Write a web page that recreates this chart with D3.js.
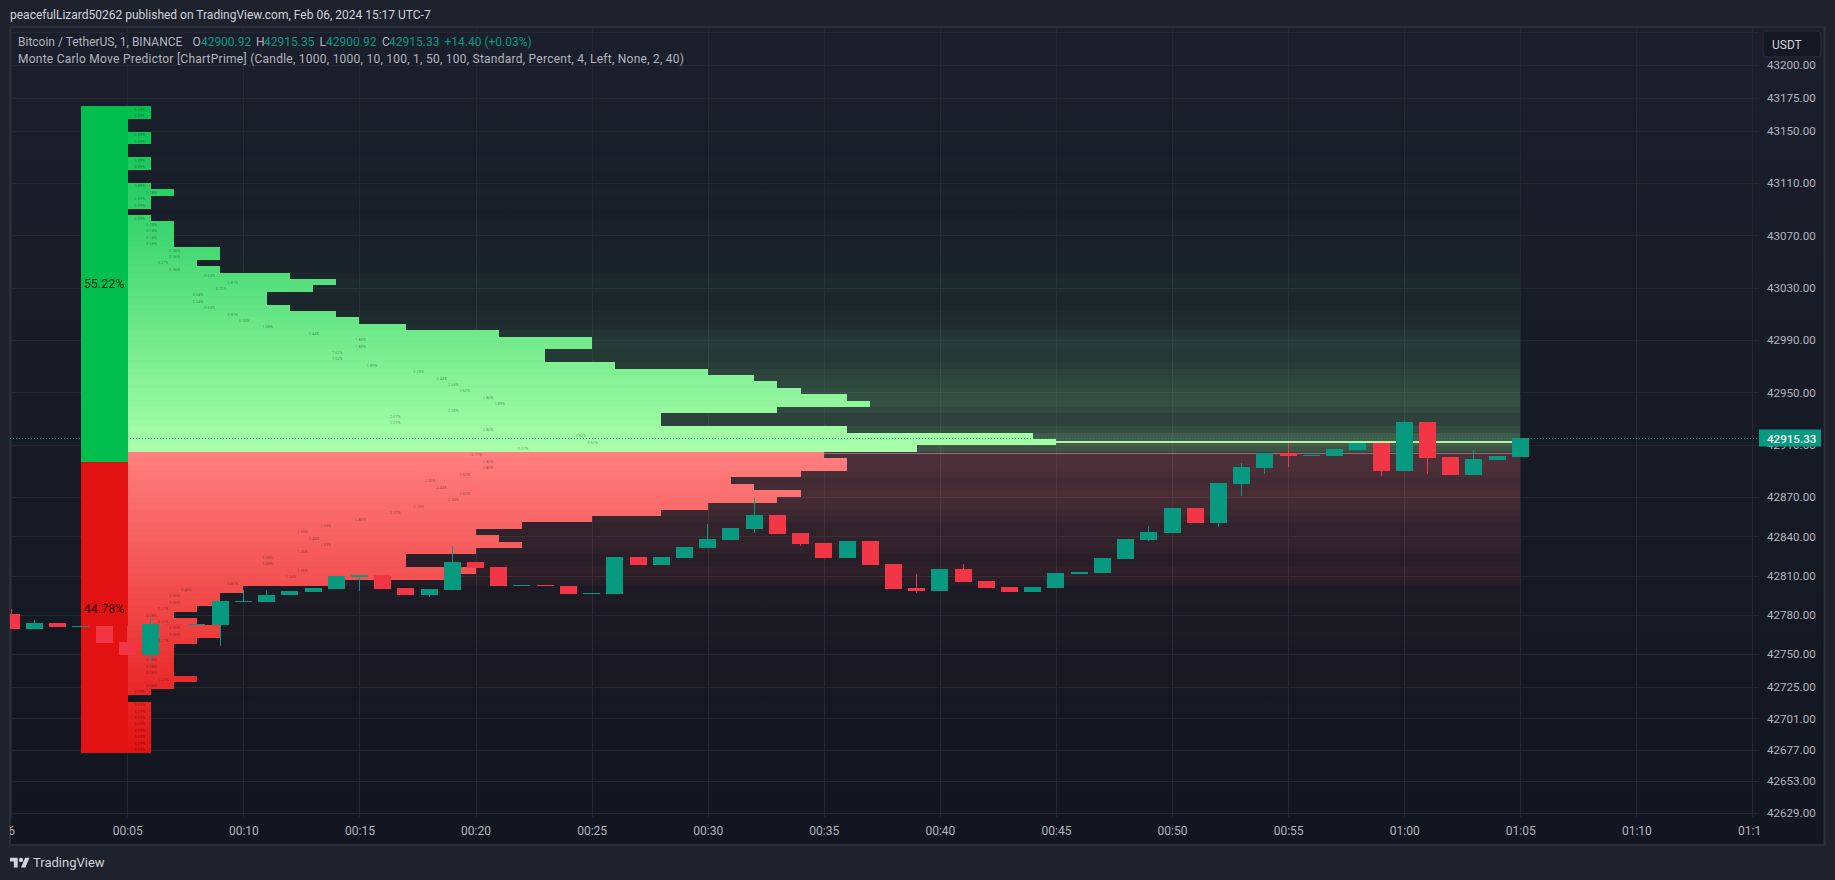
<!DOCTYPE html>
<html>
<head>
<meta charset="utf-8">
<script src="https://d3js.org/d3.v7.min.js"></script>
<style>
html,body{margin:0;padding:0;background:#1e222d;overflow:hidden}
svg{display:block}
text{font-family:Roboto,"Open Sans",sans-serif}
</style>
</head>
<body>
<svg id="c" width="1835" height="880"></svg>
<script>
// ---------- data ----------
const minutes = d3.range(0,66);
const opens  = [42780.8,42769.3,42773.9,42770.8,42771.6,42759.3,42749.4,42773.1,42772.3,42772.3,42789.9,42789.9,42795.3,42797.5,42799.8,42809.0,42810.5,42800.6,42795.3,42799.1,42820.5,42816.7,42802.1,42802.9,42802.1,42796.0,42796.0,42824.3,42818.2,42823.5,42831.2,42837.3,42845.7,42856.4,42842.6,42835.0,42823.5,42836.5,42818.9,42800.6,42798.3,42815.1,42805.9,42801.4,42797.5,42800.6,42811.3,42812.1,42822.8,42837.3,42842.6,42861.7,42850.3,42880.0,42892.3,42903.7,42901.4,42901.4,42906.0,42911.4,42890.0,42927.4,42900.7,42886.9,42898.4,42900.92];
const highs  = [42784.6,42776.2,42773.9,42771.6,42771.6,42771.6,42777.7,42773.1,42773.1,42790.7,42799.1,42799.1,42798.3,42800.6,42809.8,42810.5,42810.5,42800.6,42799.8,42832.7,42820.5,42816.7,42802.9,42802.9,42802.1,42796.8,42824.3,42824.3,42824.3,42831.9,42849.5,42846.4,42869.4,42856.4,42842.6,42835.0,42836.5,42836.5,42818.9,42811.3,42815.1,42818.9,42805.9,42801.4,42801.4,42812.1,42812.8,42823.5,42838.0,42848.0,42861.7,42861.7,42880.8,42896.1,42903.7,42911.4,42902.2,42906.8,42911.4,42911.4,42928.2,42927.4,42900.7,42906.0,42901.4,42915.35];
const lows   = [42769.3,42769.3,42770.8,42770.8,42758.6,42749.4,42744.1,42772.3,42772.3,42756.3,42789.9,42789.9,42795.3,42797.5,42799.8,42798.3,42799.8,42795.3,42793.7,42799.1,42815.9,42802.1,42802.1,42802.1,42796.0,42796.0,42796.0,42818.2,42818.2,42823.5,42831.2,42837.3,42842.6,42841.8,42832.7,42823.5,42823.5,42818.2,42799.8,42796.8,42798.3,42805.2,42800.6,42797.5,42797.5,42800.6,42811.3,42812.1,42822.8,42836.5,42842.6,42850.3,42847.2,42870.9,42887.7,42893.0,42901.4,42901.4,42906.0,42886.2,42890.0,42887.7,42886.9,42886.9,42898.4,42900.92];
const closes = [42769.3,42773.9,42770.8,42771.6,42758.6,42749.4,42773.1,42772.3,42773.1,42790.7,42790.7,42795.3,42798.3,42800.6,42809.8,42810.5,42799.8,42795.3,42799.8,42820.5,42815.9,42802.1,42802.9,42802.1,42796.0,42796.8,42824.3,42818.2,42824.3,42831.9,42838.0,42846.4,42856.4,42841.8,42834.2,42823.5,42836.5,42818.2,42799.8,42798.3,42815.1,42805.2,42800.6,42797.5,42801.4,42812.1,42812.8,42823.5,42838.0,42843.4,42861.7,42850.3,42880.8,42893.0,42903.7,42901.4,42902.2,42906.8,42911.4,42890.0,42927.4,42899.9,42886.9,42899.2,42901.4,42915.33];

// profile: length of each price row, in bars, from the top row down
const greenBars = [1,1,0,0,1,1,0,0,1,1,0,0,1,2,1,1,0,1,2,2,2,2,4,4,3,4,7,9,8,6,6,7,9,10,12,16,20,20,18,18,21,25,27,28,29,31,32,28,23,23,31,39,40,34];
const redBars   = [30,31,31,29,26,27,29,28,25,23,20,17,15,16,17,15,12,12,15,14,9,5,4,4,3,2,3,4,4,3,2,2,2,2,2,3,2,1,0,1,1,1,1,1,1,1,1];
const profileTop = 43168.8, profileBottom = 42674.6, profileSplit = 42897.1;
const pctPerBar = 0.0902;
const greenShare = "55.22%", redShare = "44.78%";
const greenLevel = 42912.9, redLevel = 42903.7;
const lastClose = 42915.33;

const gridPrices = [43225,43200,43175,43150,43110,43070,43030,42990,42950,42910,42870,42840,42810,42780,42750,42725,42701,42677,42653,42629];
const priceTicks = [43200,43175,43150,43110,43070,43030,42990,42950,42910,42870,42840,42810,42780,42750,42725,42701,42677,42653,42629];
const timeTicks  = [0,5,10,15,20,25,30,35,40,45,50,55,60,65,70,75];
const timeLabels = ["6","00:05","00:10","00:15","00:20","00:25","00:30","00:35","00:40","00:45","00:50","00:55","01:00","01:05","01:10","01:15"];

const UP="#089981", DOWN="#f23645", GRID="#242833", TXT="#b2b5be";

// ---------- scales ----------
const x = d3.scaleLinear().domain([5,65]).range([127.3,1520.3]);
const y = d3.scaleLinear().domain([43110,42750]).range([183,654.2]);
const greenColor = d3.scaleLinear().domain([profileTop,42904]).range(["#00bf4f","#aaffaa"]).interpolate(d3.interpolateRgb);
const redColor   = d3.scaleLinear().domain([42904,profileBottom]).range(["#ff7f7f","#e21212"]).interpolate(d3.interpolateRgb);
const alphaOf    = d3.scaleLinear().domain([0,40]).range([0.008,0.30]);

const nRows = greenBars.length + redBars.length;
const bin = (profileTop-profileBottom)/nRows;
const rows = greenBars.concat(redBars).map((bars,i)=>{
  const up = i<greenBars.length;
  const p0 = profileTop-i*bin, p1 = profileTop-(i+1)*bin;
  return {bars,up,p0,p1,color:(up?greenColor:redColor)((p0+p1)/2)};
});
const candles = minutes.map((t,i)=>({t,o:opens[i],h:highs[i],l:lows[i],c:closes[i]}));

// ---------- layout ----------
const svg = d3.select("#c");
const defs = svg.append("defs");
const grad = defs.append("linearGradient").attr("id","bg").attr("x1",0).attr("x2",0).attr("y1",0).attr("y2",1);
grad.append("stop").attr("offset",0).attr("stop-color","#1b1f2b");
grad.append("stop").attr("offset",1).attr("stop-color","#121620");
defs.append("clipPath").attr("id","pane").append("rect").attr("x",10).attr("y",28).attr("width",1749).attr("height",789);
defs.append("clipPath").attr("id","taxis").append("rect").attr("x",10).attr("y",817).attr("width",1749.5).attr("height",27);

svg.append("rect").attr("width",1835).attr("height",880).attr("fill","#1e222d");
svg.append("rect").attr("x",10).attr("y",27).attr("width",1814.5).attr("height",818).attr("fill","url(#bg)")
   .attr("stroke","#2a2e39").attr("stroke-width",2);

// header
svg.append("text").attr("x",10).attr("y",19).attr("font-size",12).attr("fill","#d1d4dc")
   .text("peacefulLizard50262 published on TradingView.com, Feb 06, 2024 15:17 UTC-7");

const pane = svg.append("g").attr("clip-path","url(#pane)").attr("shape-rendering","crispEdges");

// grid
pane.selectAll(".hg").data(gridPrices).join("line").attr("class","hg")
  .attr("x1",10).attr("x2",1759).attr("y1",d=>Math.round(y(d))+.5).attr("y2",d=>Math.round(y(d))+.5)
  .attr("stroke",GRID);
pane.selectAll(".vg").data(timeTicks).join("line").attr("class","vg")
  .attr("y1",28).attr("y2",817).attr("x1",d=>Math.round(x(d))+.5).attr("x2",d=>Math.round(x(d))+.5)
  .attr("stroke",GRID);

// translucent bands to the last bar
pane.selectAll(".band").data(rows).join("rect").attr("class","band")
  .attr("x",x(5)).attr("width",x(65)-x(5))
  .attr("y",d=>Math.round(y(d.p0))).attr("height",d=>Math.round(y(d.p1))-Math.round(y(d.p0)))
  .attr("fill",d=>d.color).attr("fill-opacity",d=>alphaOf(d.bars));

// profile rows
const edge = Math.round(x(5))+1;
pane.selectAll(".row").data(rows.filter(d=>d.bars>0)).join("rect").attr("class","row")
  .attr("x",edge).attr("width",d=>Math.round(x(5+d.bars))-edge)
  .attr("y",d=>Math.round(y(d.p0))).attr("height",d=>Math.round(y(d.p1))-Math.round(y(d.p0)))
  .attr("fill",d=>d.color);

// tiny percentage labels
pane.selectAll(".pct").data(rows.filter(d=>d.bars>0)).join("text").attr("class","pct")
  .attr("x",d=>(x(5)+x(5+d.bars))/2+1).attr("y",d=>(y(d.p0)+y(d.p1))/2+1.4)
  .attr("text-anchor","middle").attr("font-size",4).attr("fill","rgba(0,0,0,0.42)")
  .text(d=>(d.bars*pctPerBar).toFixed(2)+"%");

// last price dotted line
pane.append("line").attr("x1",10).attr("x2",1759).attr("y1",Math.round(y(lastClose))+.5).attr("y2",Math.round(y(lastClose))+.5)
  .attr("stroke",UP).attr("stroke-dasharray","1 2");

// left share bar
pane.append("rect").attr("x",Math.round(x(3))).attr("width",edge-Math.round(x(3)))
  .attr("y",Math.round(y(profileTop))).attr("height",Math.round(y(profileSplit))-Math.round(y(profileTop))).attr("fill","#00bf4f");
pane.append("rect").attr("x",Math.round(x(3))).attr("width",edge-Math.round(x(3)))
  .attr("y",Math.round(y(profileSplit))).attr("height",Math.round(y(profileBottom))-Math.round(y(profileSplit))).attr("fill","#e21212");

// mean lines
pane.append("rect").attr("x",x(45)).attr("width",x(65)-x(45)).attr("y",Math.round(y(greenLevel))).attr("height",2).attr("fill","#b6f2a4");
pane.append("rect").attr("x",x(35)).attr("width",x(65)-x(35)).attr("y",Math.round(y(redLevel))).attr("height",1).attr("fill","#8f7478");

// candles
const cg = pane.selectAll(".cdl").data(candles).join("g").attr("class","cdl");
cg.append("rect").attr("x",d=>Math.round(x(d.t)-.5)).attr("width",1)
  .attr("y",d=>Math.round(y(d.h))).attr("height",d=>Math.max(1,Math.round(y(d.l))-Math.round(y(d.h))))
  .attr("fill",d=>d.c>=d.o?UP:DOWN);
cg.append("rect").attr("x",d=>Math.round(x(d.t)-8.5)).attr("width",17)
  .attr("y",d=>Math.round(y(Math.max(d.o,d.c)))).attr("height",d=>Math.max(1,Math.round(y(Math.min(d.o,d.c)))-Math.round(y(Math.max(d.o,d.c)))))
  .attr("fill",d=>d.c>=d.o?UP:DOWN);

// share labels (drawn above marks)
svg.append("text").attr("x",x(4)).attr("y",y(profileTop)+182).attr("text-anchor","middle").attr("font-size",12.5).attr("fill","rgba(0,0,0,.8)").text(greenShare);
svg.append("text").attr("x",x(4)).attr("y",612.5).attr("text-anchor","middle").attr("font-size",12.5).attr("fill","rgba(0,0,0,.8)").text(redShare);

// axes with the library's axis generators, then restyled
const axisY = d3.axisRight(y).tickValues(priceTicks).tickSize(0).tickPadding(0).tickFormat(d3.format(".2f"));
const gy = svg.append("g").attr("transform","translate(1767,0)").call(axisY);
gy.select(".domain").remove();
gy.selectAll("text").attr("font-size",11.6).attr("fill",TXT).attr("font-family","Roboto");

const axisX = d3.axisBottom(x).tickValues(timeTicks).tickSize(0).tickPadding(0).tickFormat((d,i)=>timeLabels[i]);
const gx = svg.append("g").attr("clip-path","url(#taxis)").append("g").attr("transform","translate(0,826.5)").call(axisX);
gx.select(".domain").remove();
gx.selectAll("text").attr("font-size",12).attr("fill",TXT).attr("font-family","Roboto").attr("dy","0.71em");

// USDT box
svg.append("rect").attr("x",1763).attr("y",31).attr("width",58).attr("height",26).attr("rx",4)
  .attr("fill","#141823").attr("stroke","#2a2e39").attr("stroke-width",1.2);
svg.append("text").attr("x",1772).attr("y",49).attr("font-size",12).attr("fill","#d1d4dc").text("USDT");

// last price tag
svg.append("rect").attr("x",1759).attr("y",Math.round(y(lastClose))-8.5).attr("width",62).attr("height",17).attr("fill",UP);
svg.append("text").attr("x",1767).attr("y",Math.round(y(lastClose))+4.5).attr("font-size",11.6).attr("font-weight",500).attr("fill","#fff").text(d3.format(".2f")(lastClose));

// legend
const lg = svg.append("g").attr("font-size",12);
const grey="#b2b5be";
[["Bitcoin / TetherUS, 1, BINANCE",18,grey],["O",192.6,grey],["42900.92",200.9,UP],["H",256,grey],["42915.35",264,UP],
 ["L",319.5,grey],["42900.92",326,UP],["C",382,grey],["42915.33",389,UP],["+14.40 (+0.03%)",444.5,UP]]
 .forEach(([s,px,col])=>lg.append("text").attr("x",px).attr("y",46).attr("fill",col).text(s));
lg.append("text").attr("x",18).attr("y",63).attr("fill",grey)
  .attr("textLength",666).attr("lengthAdjust","spacing")
  .text("Monte Carlo Move Predictor [ChartPrime] (Candle, 1000, 1000, 10, 100, 1, 50, 100, Standard, Percent, 4, Left, None, 2, 40)");

// footer logo
const logo = svg.append("g").attr("transform","translate(10,855.5) scale(.55)").attr("fill","#d1d4dc");
logo.append("path").attr("d","M14 22H7V11H0V4h14v18zM28 22h-8l7.5-18h8L28 22z");
logo.append("circle").attr("cx",20).attr("cy",8).attr("r",4);
svg.append("text").attr("x",33).attr("y",867).attr("font-size",13).attr("fill","#d1d4dc").text("TradingView");
</script>
</body>
</html>
